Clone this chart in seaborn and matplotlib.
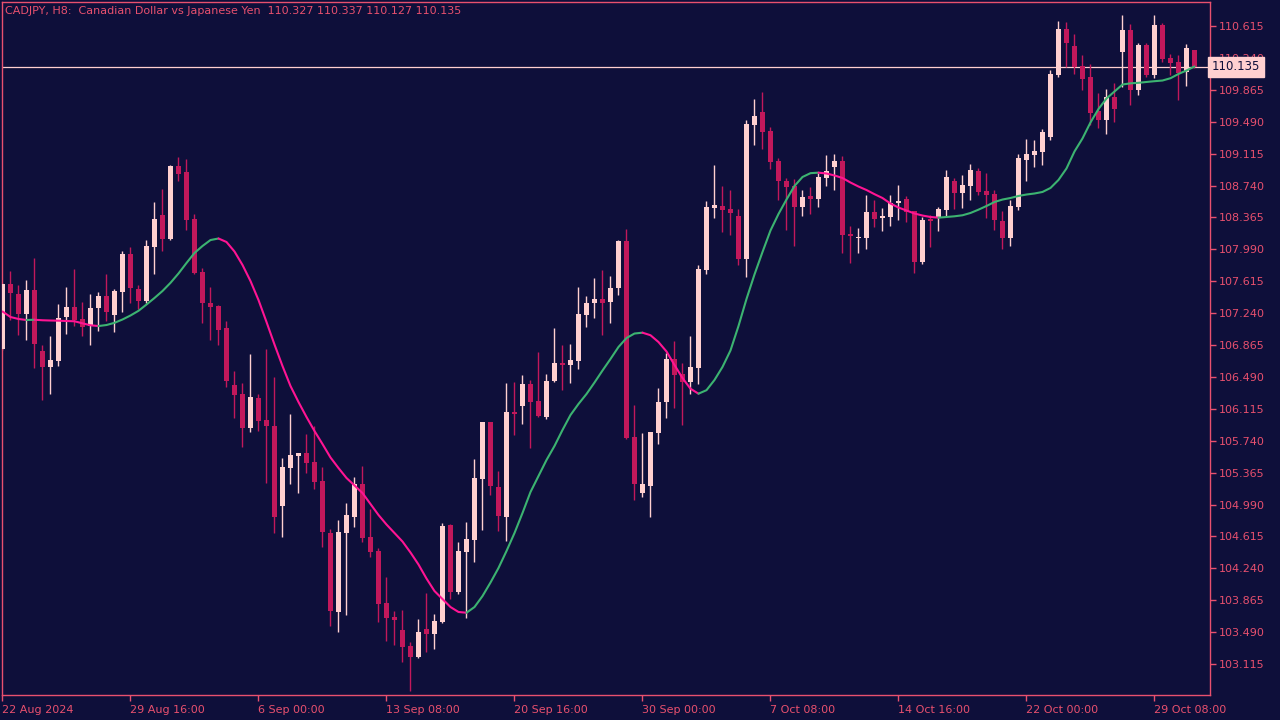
import numpy as np
import pandas as pd
import matplotlib
matplotlib.use("Agg")
import matplotlib.pyplot as plt
import seaborn as sns

# ---------------- data ----------------
open_ = [106.818, 107.582, 107.465, 107.230, 107.512, 106.794, 106.606, 106.677, 107.194, 107.312,
         107.171, 107.088, 107.300, 107.441, 107.218, 107.488, 107.935, 107.524, 107.382, 108.017,
         108.393, 108.111, 108.969, 108.899, 108.346, 107.723, 107.359, 107.324, 107.065, 106.395,
         106.289, 105.889, 106.242, 105.983, 105.913, 104.972, 105.419, 105.564, 105.596, 105.490,
         105.266, 104.655, 103.726, 104.655, 104.843, 105.231, 104.608, 104.444, 103.832, 103.668,
         103.515, 103.327, 103.198, 103.527, 103.468, 103.609, 104.749, 103.961, 104.432, 104.573,
         105.290, 105.960, 105.196, 104.843, 106.078, 106.148, 106.407, 106.207, 106.019, 106.442,
         106.654, 106.630, 106.677, 107.218, 107.359, 107.406, 107.371, 107.535, 108.088, 105.784,
         105.126, 105.208, 105.831, 106.195, 106.701, 106.524, 106.430, 106.595, 107.747, 108.476,
         108.499, 108.464, 108.382, 107.876, 109.451, 109.604, 109.381, 109.028, 108.793, 108.734,
         108.487, 108.617, 108.581, 108.828, 108.958, 109.028, 108.170, 108.123, 108.123, 108.429,
         108.358, 108.370, 108.534, 108.581, 108.441, 107.841, 108.346, 108.370, 108.452, 108.793,
         108.652, 108.734, 108.911, 108.675, 108.640, 108.323, 108.123, 108.487, 109.040, 109.099,
         109.134, 109.310, 110.039, 110.580, 110.380, 110.145, 110.016, 109.616, 109.510, 109.780,
         110.309, 110.568, 109.863, 110.392, 110.039, 110.627, 110.239, 110.192, 110.075, 110.327]
high = [107.594, 107.735, 107.570, 107.629, 107.888, 106.865, 106.971, 107.347, 107.547, 107.759,
        107.371, 107.465, 107.488, 107.700, 107.524, 107.970, 108.017, 107.570, 108.099, 108.546,
        108.699, 108.981, 109.075, 109.052, 108.405, 107.770, 107.547, 107.335, 107.147, 106.559,
        106.418, 106.759, 106.289, 106.818, 106.489, 105.537, 106.054, 105.600, 105.819, 105.913,
        105.431, 104.702, 104.808, 105.008, 105.314, 105.443, 104.937, 104.479, 104.138, 103.738,
        103.750, 103.374, 103.644, 103.950, 103.703, 104.773, 104.761, 104.549, 104.784, 105.525,
        105.960, 105.965, 105.384, 106.418, 106.430, 106.512, 106.454, 106.783, 106.524, 107.065,
        106.865, 106.877, 107.547, 107.441, 107.653, 107.747, 107.676, 108.095, 108.229, 106.160,
        105.831, 105.842, 106.360, 106.771, 106.912, 106.654, 106.971, 107.806, 108.558, 108.981,
        108.734, 108.687, 108.464, 109.510, 109.757, 109.839, 109.428, 109.063, 108.828, 108.816,
        108.687, 108.722, 108.887, 109.099, 109.111, 109.087, 108.264, 108.240, 108.628, 108.570,
        108.476, 108.628, 108.746, 108.617, 108.445, 108.370, 108.393, 108.487, 108.922, 108.828,
        108.864, 108.993, 108.946, 108.887, 108.687, 108.441, 108.570, 109.111, 109.287, 109.275,
        109.404, 110.098, 110.674, 110.662, 110.521, 110.274, 110.168, 109.827, 109.874, 109.945,
        110.745, 110.639, 110.415, 110.415, 110.745, 110.651, 110.286, 110.274, 110.403, 110.337]
low = [106.806, 107.159, 106.982, 106.924, 106.595, 106.219, 106.289, 106.618, 106.994, 107.088,
       106.971, 106.865, 107.030, 107.147, 107.018, 107.253, 107.359, 107.288, 107.359, 107.700,
       107.970, 108.099, 108.793, 108.217, 107.700, 107.124, 106.924, 106.865, 106.371, 106.007,
       105.666, 105.842, 105.854, 105.243, 104.655, 104.608, 105.231, 105.126, 105.361, 105.173,
       104.491, 103.562, 103.491, 103.691, 104.726, 104.549, 104.373, 103.609, 103.385, 103.338,
       103.139, 102.798, 103.186, 103.256, 103.292, 103.597, 103.879, 103.938, 103.656, 104.314,
       104.690, 105.102, 104.679, 104.561, 105.807, 105.936, 105.654, 106.019, 105.995, 106.430,
       106.336, 106.418, 106.583, 107.077, 107.183, 106.982, 107.124, 107.453, 105.760, 105.043,
       105.079, 104.843, 105.701, 106.007, 106.125, 105.924, 106.289, 106.407, 107.700, 108.358,
       108.193, 108.158, 107.806, 107.665, 109.216, 109.169, 108.934, 108.570, 108.217, 108.029,
       108.382, 108.405, 108.487, 108.734, 108.687, 107.946, 107.829, 107.946, 107.994, 108.252,
       108.205, 108.264, 108.335, 108.311, 107.711, 107.817, 108.017, 108.205, 108.370, 108.464,
       108.476, 108.570, 108.628, 108.358, 108.217, 107.994, 108.029, 108.452, 108.793, 108.958,
       108.981, 109.275, 110.016, 110.133, 110.051, 109.863, 109.451, 109.416, 109.345, 109.487,
       109.900, 109.686, 109.804, 110.016, 110.004, 110.192, 110.039, 109.745, 109.910, 110.127]
close = [107.582, 107.477, 107.230, 107.512, 106.877, 106.606, 106.689, 107.183, 107.312, 107.159,
         107.076, 107.300, 107.441, 107.253, 107.500, 107.935, 107.535, 107.382, 108.029, 108.346,
         108.111, 108.969, 108.875, 108.335, 107.711, 107.359, 107.312, 107.041, 106.442, 106.277,
         105.889, 106.254, 105.972, 105.913, 104.843, 105.431, 105.572, 105.596, 105.478, 105.255,
         104.667, 103.738, 104.667, 104.867, 105.231, 104.596, 104.432, 103.820, 103.656, 103.632,
         103.315, 103.198, 103.491, 103.468, 103.621, 104.737, 103.961, 104.444, 104.585, 105.302,
         105.960, 105.208, 104.855, 106.078, 106.054, 106.407, 106.195, 106.031, 106.442, 106.654,
         106.630, 106.689, 107.230, 107.359, 107.406, 107.359, 107.535, 108.088, 105.772, 105.231,
         105.231, 105.842, 106.195, 106.701, 106.513, 106.430, 106.607, 107.758, 108.487, 108.511,
         108.452, 108.417, 107.876, 109.463, 109.557, 109.369, 109.016, 108.793, 108.722, 108.487,
         108.605, 108.581, 108.840, 108.911, 109.028, 108.158, 108.147, 108.135, 108.429, 108.346,
         108.382, 108.534, 108.558, 108.429, 107.841, 108.335, 108.323, 108.464, 108.840, 108.652,
         108.746, 108.922, 108.664, 108.628, 108.335, 108.123, 108.499, 109.063, 109.111, 109.146,
         109.369, 110.051, 110.580, 110.415, 110.133, 109.992, 109.592, 109.510, 109.780, 109.639,
         110.568, 109.863, 110.392, 110.039, 110.627, 110.227, 110.180, 110.063, 110.356, 110.135]
ma_line = [107.259, 107.194, 107.171, 107.159, 107.162, 107.156, 107.153, 107.151, 107.147, 107.144,
           107.120, 107.097, 107.088, 107.100, 107.126, 107.165, 107.212, 107.267, 107.341, 107.418,
           107.500, 107.596, 107.706, 107.829, 107.947, 108.029, 108.099, 108.117, 108.076, 107.964,
           107.806, 107.617, 107.394, 107.136, 106.871, 106.618, 106.383, 106.195, 106.019, 105.854,
           105.701, 105.543, 105.419, 105.302, 105.214, 105.125, 104.996, 104.867, 104.755, 104.655,
           104.555, 104.426, 104.285, 104.120, 103.973, 103.879, 103.785, 103.727, 103.718, 103.785,
           103.914, 104.073, 104.244, 104.443, 104.655, 104.890, 105.137, 105.325, 105.513, 105.678,
           105.866, 106.042, 106.172, 106.289, 106.424, 106.565, 106.701, 106.842, 106.947, 107.000,
           107.010, 106.980, 106.900, 106.789, 106.630, 106.477, 106.351, 106.293, 106.334, 106.454,
           106.607, 106.801, 107.088, 107.406, 107.694, 107.958, 108.211, 108.405, 108.575, 108.734,
           108.840, 108.885, 108.891, 108.881, 108.858, 108.828, 108.775, 108.728, 108.687, 108.638,
           108.593, 108.528, 108.481, 108.446, 108.411, 108.387, 108.370, 108.362, 108.370, 108.378,
           108.390, 108.417, 108.456, 108.499, 108.546, 108.575, 108.593, 108.617, 108.634, 108.646,
           108.664, 108.711, 108.805, 108.940, 109.140, 109.293, 109.481, 109.639, 109.763, 109.845,
           109.927, 109.941, 109.947, 109.957, 109.966, 109.974, 110.001, 110.051, 110.092, 110.139]

date_labels = ["22 Aug 2024", "29 Aug 16:00", "6 Sep 00:00", "13 Sep 08:00", "20 Sep 16:00",
               "30 Sep 00:00", "7 Oct 08:00", "14 Oct 16:00", "22 Oct 00:00", "29 Oct 08:00"]
date_bar_index = [0, 16, 32, 48, 64, 80, 96, 112, 128, 144]
price_ticks = [103.115, 103.490, 103.865, 104.240, 104.615, 104.990, 105.365, 105.740, 106.115,
               106.490, 106.865, 107.240, 107.615, 107.990, 108.365, 108.740, 109.115, 109.490,
               109.865, 110.240, 110.615]
symbol_title = "CADJPY, H8:  Canadian Dollar vs Japanese Yen  110.327 110.337 110.127 110.135"
last_price = 110.135

# ---------------- style ----------------
BG = "#0e0f3a"
AXC = "#e8506e"
BULL = "#ffd0d0"
BEAR = "#c2185b"
MA_UP = "#3cb371"
MA_DN = "#ff1493"

sns.set_theme(style="dark", rc={"axes.facecolor": BG, "figure.facecolor": BG})
plt.rcParams["font.family"] = ["DejaVu Sans"]

df = pd.DataFrame({"x": np.arange(len(close)), "open": open_, "high": high,
                   "low": low, "close": close, "ma": ma_line})
df["bull"] = df["close"] >= df["open"]
df["color"] = np.where(df["bull"], BULL, BEAR)
df["body_lo"] = df[["open", "close"]].min(axis=1)
df["body_h"] = (df["close"] - df["open"]).abs().clip(lower=0.012)

fig = plt.figure(figsize=(12.8, 7.2), dpi=100, facecolor=BG)
ax = fig.add_axes([2 / 1280, 25 / 720, 1208 / 1280, 693 / 720])
ax.set_facecolor(BG)

# current price line
ax.axhline(last_price, color=BULL, lw=0.9, zorder=1)

# candles
ax.vlines(df["x"], df["low"], df["high"], colors=df["color"], linewidth=1.0, zorder=2)
ax.bar(df["x"], df["body_h"], bottom=df["body_lo"], width=0.62, color=df["color"],
       linewidth=0, zorder=3)

# moving average coloured by slope
rising = np.diff(df["ma"].values) >= 0
start = 0
for i in range(1, len(rising) + 1):
    if i == len(rising) or rising[i] != rising[start]:
        seg = df.iloc[start:i + 1]
        sns.lineplot(data=seg, x="x", y="ma", ax=ax, color=MA_UP if rising[start] else MA_DN,
                     linewidth=1.5, zorder=4, legend=False)
        start = i

ax.set_xlim(-0.0625, 150.94)
ax.set_ylim(102.751, 110.897)

# axes styling
for s in ax.spines.values():
    s.set_color(AXC)
    s.set_linewidth(1.0)
    s.set_visible(True)

ax.yaxis.tick_right()
ax.set_yticks(price_ticks)
ax.set_yticklabels([f"{p:.3f}" for p in price_ticks])
ax.set_xticks(date_bar_index)
ax.set_xticklabels(date_labels, ha="left")
ax.tick_params(axis="both", colors=AXC, labelsize=8, length=4, width=1, direction="out")
ax.tick_params(axis="y", pad=2, right=True, left=False)
ax.tick_params(axis="x", pad=3, bottom=True)
ax.set_xlabel("")
ax.set_ylabel("")
ax.grid(False)

# last price label on the axis
ax.text(1.0015, last_price, f"{last_price:.3f}", transform=ax.get_yaxis_transform(),
        ha="left", va="center", fontsize=8.5, color=BG, zorder=10, clip_on=False,
        bbox=dict(boxstyle="square,pad=0.3", fc=BULL, ec=BULL))

# header text
fig.text(5 / 1280, 1 - 11 / 720, symbol_title, color=AXC, fontsize=8, ha="left", va="center")

fig.savefig("out.png", dpi=100, facecolor=BG)
